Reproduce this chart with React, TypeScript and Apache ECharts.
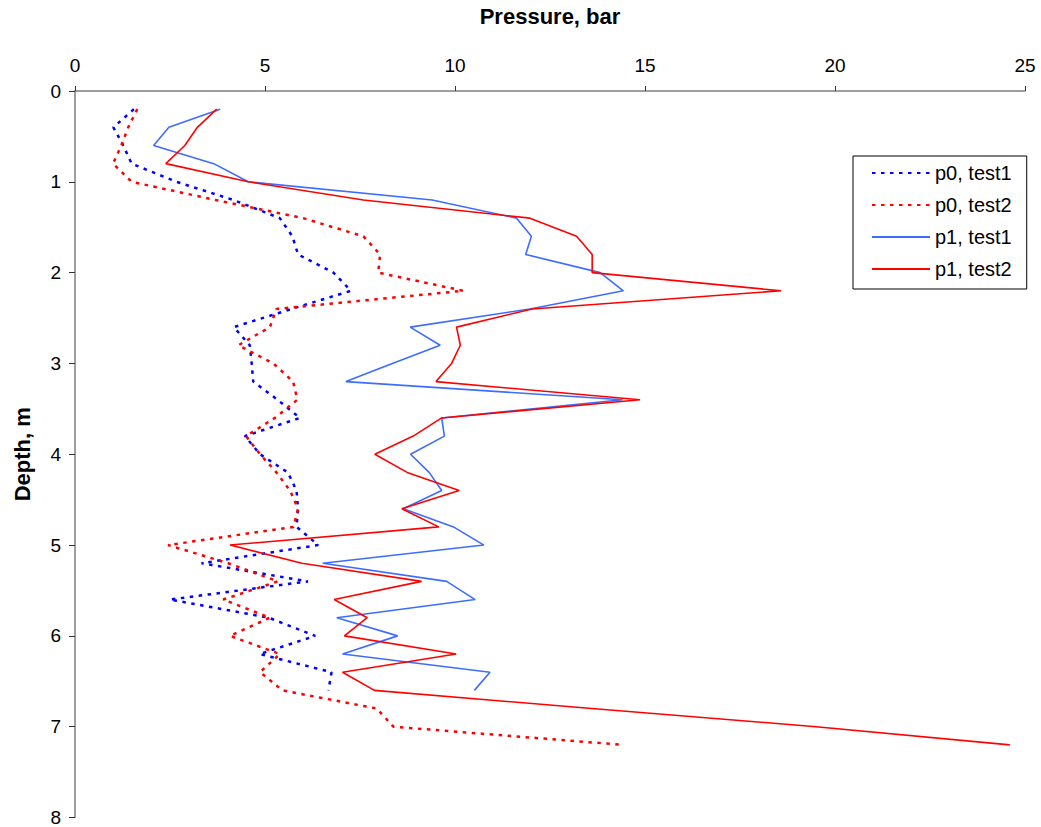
import React, { useEffect, useRef } from "react";
import * as echarts from "echarts";

const depths = [
  0.2, 0.4, 0.6, 0.8, 1.0, 1.2, 1.4, 1.6, 1.8, 2.0, 2.2, 2.4, 2.6, 2.8, 3.0, 3.2, 3.4, 3.6,
  3.8, 4.0, 4.2, 4.4, 4.6, 4.8, 5.0, 5.2, 5.4, 5.6, 5.8, 6.0, 6.2, 6.4, 6.6, 6.8, 7.0, 7.2,
];

const p0Test1 = [
  1.55, 1.01, 1.27, 1.49, 2.67, 4.17, 5.39, 5.72, 5.87, 6.8, 7.26, 5.7, 4.18, 4.6, 4.65, 4.69,
  5.33, 5.92, 4.47, 4.87, 5.6, 5.83, 5.87, 5.83, 6.4, 3.33, 6.13, 2.5, 5.1, 6.32, 4.86, 6.75, 6.67,
];

const p0Test2 = [
  1.64, 1.4, 1.22, 1.0, 1.49, 3.7, 6.0, 7.59, 8.03, 7.98, 10.22, 5.3, 5.13, 4.3, 5.22, 5.74,
  5.85, 5.26, 4.5, 4.87, 5.3, 5.66, 5.87, 5.75, 2.45, 4.03, 5.34, 3.9, 5.13, 4.08, 5.39, 4.87,
  5.46, 7.94, 8.38, 14.41,
];

const p1Test1 = [
  3.82, 2.47, 2.07, 3.65, 4.56, 9.4, 11.62, 12.01, 11.86, 13.82, 14.43, 11.97, 8.82, 9.61, 8.35,
  7.13, 14.41, 9.65, 9.72, 8.83, 9.32, 9.65, 8.64, 9.96, 10.76, 6.52, 9.78, 10.53, 6.89, 8.49,
  7.04, 10.92, 10.51,
];

const p1Test2 = [
  3.73, 3.22, 2.89, 2.39, 4.56, 7.59, 11.97, 13.2, 13.61, 13.61, 18.58, 12.03, 10.04, 10.14,
  9.91, 9.5, 14.87, 9.65, 8.9, 7.89, 8.74, 10.11, 8.6, 9.57, 4.08, 5.97, 9.12, 6.82, 7.69, 7.09,
  10.03, 7.04, 7.88, 13.6, 19.5, 24.6,
];

const seriesNames = ["p0, test1", "p0, test2", "p1, test1", "p1, test2"];

const toPairs = (vals: number[]) => vals.map((v, i) => [v, depths[i]]);

export default function App() {
  const ref = useRef<HTMLDivElement>(null);
  useEffect(() => {
    if (!ref.current) return;
    const chart = echarts.init(ref.current, undefined, { renderer: "svg" });
    const font = "Liberation Sans, Arial, sans-serif";
    const dotted = (color: string) => ({
      width: 2.5,
      color,
      type: [3.5, 5.5] as number[],
      cap: "butt" as const,
    });
    chart.setOption({
      animation: false,
      backgroundColor: "#ffffff",
      textStyle: { fontFamily: font },
      grid: { left: 75, top: 91, width: 950, height: 727 },
      legend: {
        orient: "vertical",
        left: 853,
        top: 156,
        data: seriesNames,
        itemWidth: 58,
        itemHeight: 14,
        itemGap: 12,
        padding: [7, 15, 10, 18],
        borderColor: "#000000",
        borderWidth: 1,
        backgroundColor: "#ffffff",
        itemStyle: { opacity: 0 },
        textStyle: { fontFamily: font, fontSize: 20, color: "#000000" },
      },
      xAxis: {
        type: "value",
        position: "top",
        min: 0,
        max: 25,
        interval: 5,
        name: "Pressure, bar",
        nameLocation: "middle",
        nameGap: 64,
        nameTextStyle: { fontFamily: font, fontSize: 22, fontWeight: "bold", color: "#000000" },
        axisLine: { show: true, lineStyle: { color: "#7f7f7f", width: 1.5 } },
        axisTick: { show: true, inside: false, length: 5, lineStyle: { color: "#333333" } },
        axisLabel: { fontFamily: font, fontSize: 19, color: "#000000", margin: 16 },
        splitLine: { show: false },
      },
      yAxis: {
        type: "value",
        inverse: true,
        min: 0,
        max: 8,
        interval: 1,
        name: "Depth, m",
        nameLocation: "middle",
        nameGap: 42,
        nameRotate: 90,
        nameTextStyle: { fontFamily: font, fontSize: 22, fontWeight: "bold", color: "#000000" },
        axisLine: { show: true, lineStyle: { color: "#7f7f7f", width: 1.5 } },
        axisTick: { show: true, inside: false, length: 6, lineStyle: { color: "#333333" } },
        axisLabel: { fontFamily: font, fontSize: 19, color: "#000000", margin: 14 },
        splitLine: { show: false },
      },
      series: [
        {
          name: seriesNames[0],
          type: "line",
          data: toPairs(p0Test1),
          symbol: "none",
          lineStyle: dotted("#0000ff"),
          itemStyle: { color: "#0000ff" },
        },
        {
          name: seriesNames[1],
          type: "line",
          data: toPairs(p0Test2),
          symbol: "none",
          lineStyle: dotted("#ff0000"),
          itemStyle: { color: "#ff0000" },
        },
        {
          name: seriesNames[2],
          type: "line",
          data: toPairs(p1Test1),
          symbol: "none",
          lineStyle: { width: 1.6, color: "#3d6dff", type: "solid" },
          itemStyle: { color: "#3d6dff" },
        },
        {
          name: seriesNames[3],
          type: "line",
          data: toPairs(p1Test2),
          symbol: "none",
          lineStyle: { width: 1.6, color: "#ff0000", type: "solid" },
          itemStyle: { color: "#ff0000" },
        },
      ],
    });
    return () => chart.dispose();
  }, []);
  return (
    <div
      ref={ref}
      style={{ position: "fixed", left: 0, top: 0, width: 1041, height: 827 }}
    />
  );
}
